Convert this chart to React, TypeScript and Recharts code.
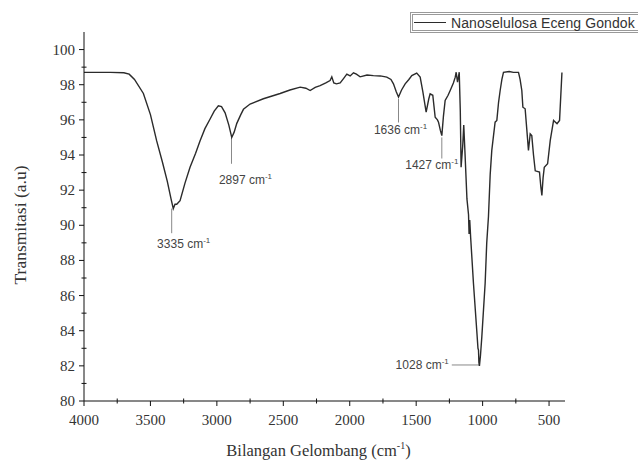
import { LineChart, Line, XAxis, YAxis, ReferenceLine } from 'recharts'

// FTIR spectrum
const WAVENUMBER = [
  4000, 3900, 3800, 3700, 3660, 3620, 3553, 3500, 3453, 3410, 3373, 3345, 3328, 3315, 3302, 3277,
  3240, 3202, 3160, 3127, 3090, 3051, 3020, 2989, 2965, 2938, 2910, 2888, 2870, 2850, 2820, 2800,
  2750, 2650, 2524, 2450, 2373, 2330, 2298, 2260, 2223, 2180, 2148, 2135, 2120, 2100, 2072, 2047,
  2022, 1997, 1972, 1950, 1922, 1870, 1822, 1770, 1721, 1690, 1671, 1650, 1633, 1610, 1583, 1555,
  1533, 1496, 1470, 1450, 1425, 1405, 1395, 1375, 1357, 1340, 1332, 1318, 1307, 1295, 1282, 1260,
  1244, 1220, 1206, 1199, 1189, 1176, 1168, 1162, 1150, 1142, 1132, 1118, 1106, 1102, 1097, 1090,
  1069, 1044, 1035, 1031, 1028, 1024, 1016, 1006, 981, 969, 956, 943, 931, 906, 893, 880,
  868, 855, 843, 800, 768, 730, 718, 705, 697, 680, 668, 655, 642, 630, 617, 604,
  572, 562, 554, 545, 536, 511, 491, 466, 440, 421, 403,
]
const TRANSMITTANCE = [
  98.7, 98.7, 98.7, 98.68, 98.6, 98.3, 97.5, 96.3, 94.8, 93.6, 92.5, 91.5, 90.95, 91.2, 91.2, 91.4,
  92.4, 93.3, 94.1, 94.8, 95.5, 96.05, 96.5, 96.8, 96.75, 96.4, 95.7, 95.0, 95.3, 95.8, 96.3, 96.6,
  96.9, 97.2, 97.5, 97.7, 97.86, 97.8, 97.67, 97.85, 97.95, 98.1, 98.24, 98.45, 98.1, 98.05, 98.1, 98.35,
  98.6, 98.5, 98.68, 98.6, 98.45, 98.55, 98.52, 98.5, 98.43, 98.3, 98.05, 97.6, 97.3, 97.7, 98.05, 98.3,
  98.52, 98.66, 98.43, 97.6, 96.44, 97.2, 97.48, 97.4, 96.15, 96.0, 95.87, 95.4, 95.1, 96.2, 97.1, 97.4,
  97.67, 98.1, 98.43, 98.71, 98.14, 98.71, 96.5, 93.3, 94.5, 95.7, 94.0, 91.5, 90.6, 89.5, 90.3, 89.3,
  86.7, 84.0, 83.0, 82.9, 82.2, 82.0, 82.6, 83.65, 86.7, 89.0, 90.5, 92.9, 94.26, 95.87, 95.97, 97.0,
  97.67, 98.3, 98.7, 98.75, 98.7, 98.7, 98.3, 97.67, 96.72, 96.63, 95.5, 94.26, 95.2, 95.1, 94.0, 93.1,
  93.03, 92.2, 91.7, 92.7, 93.3, 93.5, 94.83, 95.97, 95.78, 95.97, 98.7,
]

const X_TICKS = [4000, 3750, 3500, 3250, 3000, 2750, 2500, 2250, 2000, 1750, 1500, 1250, 1000, 750, 500]
const Y_TICKS = [80, 81, 82, 83, 84, 85, 86, 87, 88, 89, 90, 91, 92, 93, 94, 95, 96, 97, 98, 99, 100]

const PEAK_NAMES = ['3335', '2897', '1636', '1427', '1028']
const PEAK_WN = [3340, 2890, 1633, 1307, 1024]
const PEAK_TOP = [90.95, 95.0, 97.2, 95.0, 82.05]
const PEAK_BOTTOM = [89.55, 93.5, 95.85, 93.8, 82.05]
const LEADER_START = [3340, 2890, 1633, 1307, 1232]

const SERIES_NAME = 'Nanoselulosa Eceng Gondok'

const data = WAVENUMBER.map((wn, i) => ({ wn, t: TRANSMITTANCE[i] }))

const SERIF = '"Liberation Serif", "Times New Roman", serif'
const SANS = '"Liberation Sans", Arial, sans-serif'

function XTick(props: any) {
  const { x, y, payload } = props
  const major = payload.value % 500 === 0
  return (
    <g>
      <line x1={x} x2={x} y1={major ? y : y - 2.5} y2={major ? y + 5 : y + 2.5} stroke="#111" />
      {major && (
        <text x={x} y={y + 24} textAnchor="middle" style={{ fontFamily: SERIF, fontSize: 15 }} fill="#333">
          {payload.value}
        </text>
      )}
    </g>
  )
}

function YTick(props: any) {
  const { x, y, payload } = props
  const major = payload.value % 2 === 0
  return (
    <g>
      <line x1={major ? x - 5 : x - 2.5} x2={major ? x : x + 2.5} y1={y} y2={y} stroke="#111" />
      {major && (
        <text x={x - 9} y={y + 5} textAnchor="end" style={{ fontFamily: SERIF, fontSize: 15 }} fill="#333">
          {payload.value}
        </text>
      )}
    </g>
  )
}

const peakLabel = (name: string, i: number) => (props: any) => {
  const { x, y, height } = props.viewBox
  const txt = (tx: number, ty: number, anchor: string) => (
    <text x={tx} y={ty} textAnchor={anchor} style={{ fontFamily: SANS, fontSize: 12 }} fill="#444">
      {name} cm
      <tspan dy={-5} fontSize={8}>-1</tspan>
    </text>
  )
  const bottom = y + height
  if (i === 0) return txt(x + 12, bottom + 15, 'middle')
  if (i === 1) return txt(x + 14, bottom + 20, 'middle')
  if (i === 2) return txt(x + 2, bottom + 12, 'middle')
  if (i === 3) return txt(x - 10, bottom + 10, 'middle')
  return txt(x - 3, y + 4, 'end')
}

const xTitle = (props: any) => {
  const { x, y, width } = props.viewBox
  return (
    <text x={x + width / 2 - 6} y={y + 55} textAnchor="middle" style={{ fontFamily: SERIF, fontSize: 16.5 }} fill="#333">
      Bilangan Gelombang (cm
      <tspan dy={-7} fontSize={10}>-1</tspan>
      <tspan dy={7}>)</tspan>
    </text>
  )
}

const yTitle = () => (
  <text
    x={26}
    y={225}
    transform="rotate(-90, 26, 225)"
    textAnchor="middle"
    style={{ fontFamily: SERIF, fontSize: 17.5 }}
    fill="#333"
  >
    Transmitasi (a.u)
  </text>
)

export default function App() {
  return (
    <div
      style={{
        position: 'absolute',
        left: 0,
        top: 0,
        width: 638,
        height: 465,
        background: '#fff',
        overflow: 'hidden',
      }}
    >
      <LineChart width={638} height={465} data={data} margin={{ top: 32, right: 73, bottom: 0, left: 0 }}>
        <XAxis
          dataKey="wn"
          type="number"
          domain={[380, 4000]}
          reversed
          allowDataOverflow
          ticks={X_TICKS}
          interval={0}
          height={64}
          tickSize={0}
          tickMargin={0}
          tickLine={false}
          tick={<XTick />}
          axisLine={{ stroke: '#111' }}
          label={xTitle}
        />
        <YAxis
          type="number"
          domain={[80, 101]}
          allowDataOverflow
          ticks={Y_TICKS}
          interval={0}
          width={84}
          tickSize={0}
          tickMargin={0}
          tickLine={false}
          tick={<YTick />}
          axisLine={{ stroke: '#111' }}
          label={yTitle}
        />
        {PEAK_NAMES.map((name, i) => (
          <ReferenceLine
            key={name}
            segment={[
              { x: LEADER_START[i], y: PEAK_TOP[i] },
              { x: PEAK_WN[i], y: PEAK_BOTTOM[i] },
            ]}
            stroke="#888"
            strokeWidth={1}
            label={peakLabel(name, i)}
          />
        ))}
        <Line
          dataKey="t"
          type="linear"
          stroke="#2b2b2b"
          strokeWidth={1.4}
          dot={false}
          isAnimationActive={false}
        />
      </LineChart>
      <div
        style={{
          position: 'absolute',
          left: 410,
          top: 12,
          width: 250,
          height: 15,
          border: '3px double #999',
          display: 'flex',
          alignItems: 'center',
          fontFamily: SANS,
          fontSize: 14,
          letterSpacing: 0.1,
          color: '#333',
          whiteSpace: 'nowrap',
        }}
      >
        <span style={{ display: 'inline-block', width: 32, borderTop: '1.4px solid #2b2b2b', margin: '0 5px 0 1px' }} />
        {SERIES_NAME}
      </div>
    </div>
  )
}
